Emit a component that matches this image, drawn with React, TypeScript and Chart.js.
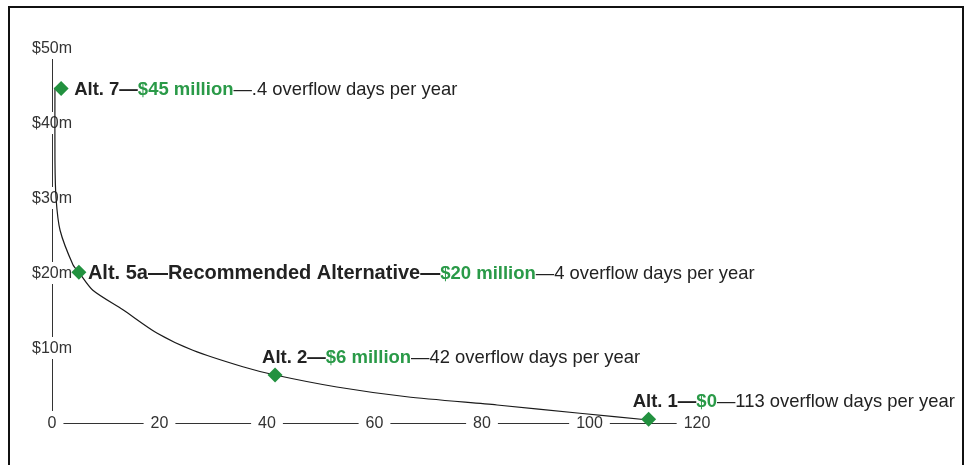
import React, { useEffect, useRef } from 'react';
import { Chart, registerables } from 'chart.js';
Chart.register(...registerables);

// Cost-vs-overflow curve (x: overflow days per year, y: cost in $ millions)
const curveDays = [0.55, 0.55, 0.75, 1.5, 3.9, 5, 7.6, 13.2, 19.5, 26.2, 35.5, 41.5, 53, 66, 82.8, 98.2, 111];
const curveCost = [44.7, 35, 30, 25.7, 21.1, 20.1, 17.7, 15.1, 12, 9.7, 7.5, 6.4, 4.8, 3.5, 2.4, 1.3, 0.4];

// Alternatives (marker positions)
const altDays = [1.7, 5, 41.5, 111];
const altCost = [44.6, 20.1, 6.4, 0.5];
const altNames = ['Alt. 7', 'Alt. 5a\u2014Recommended Alternative', 'Alt. 2', 'Alt. 1'];
const altCostText = ['$45 million', '$20 million', '$6 million', '$0'];
const altOverflowText = ['.4', '4', '42', '113'];

// Axis ticks
const xTicks = [0, 20, 40, 60, 80, 100, 120];
const xTickLabels = ['0', '20', '40', '60', '80', '100', '120'];
const yTicks = [10, 20, 30, 40, 50];
const yTickLabels = ['$10m', '$20m', '$30m', '$40m', '$50m'];

const GREEN = '#22913f';
const TEXT_GREEN = '#2a9a48';
const DARK = '#222222';
const AXIS = '#333333';
const FAMILY = '"Liberation Sans", Arial, Helvetica, sans-serif';

// label placement / name font size per alternative
const labelStyles = [
  { dx: 13, dy: 6, nameSize: 18.5 },
  { dx: 9, dy: 7, nameSize: 20 },
  { dx: -13, dy: -12, nameSize: 18.5 },
  { dx: -16, dy: -12, nameSize: 18.5 },
];

const axesPlugin = {
  id: 'customAxes',
  beforeDatasetsDraw(chart: any) {
    const ctx = chart.ctx as CanvasRenderingContext2D;
    const xs = chart.scales.x;
    const ys = chart.scales.y;
    const x0 = xs.getPixelForValue(0);
    const y0 = ys.getPixelForValue(0);
    ctx.save();
    ctx.strokeStyle = AXIS;
    ctx.lineWidth = 1;
    ctx.beginPath();
    ctx.moveTo(Math.round(x0) + 0.5, y0);
    ctx.lineTo(Math.round(x0) + 0.5, ys.getPixelForValue(50));
    ctx.moveTo(x0, Math.round(y0) + 0.5);
    ctx.lineTo(xs.getPixelForValue(120), Math.round(y0) + 0.5);
    ctx.stroke();

    ctx.textAlign = 'center';
    ctx.textBaseline = 'middle';
    ctx.font = `16px ${FAMILY}`;
    // y labels
    yTicks.forEach((v, i) => {
      const py = ys.getPixelForValue(v);
      const w = ctx.measureText(yTickLabels[i]).width;
      ctx.fillStyle = '#ffffff';
      ctx.fillRect(x0 - w / 2 - 2, py - 11, w + 4, 22);
      ctx.fillStyle = AXIS;
      ctx.fillText(yTickLabels[i], x0, py + 1);
    });
    // x labels
    ctx.font = `16px ${FAMILY}`;
    xTicks.forEach((v, i) => {
      const px = xs.getPixelForValue(v);
      const w = ctx.measureText(xTickLabels[i]).width;
      ctx.fillStyle = '#ffffff';
      ctx.fillRect(px - w / 2 - 7, y0 - 12, w + 14, 24);
      ctx.fillStyle = AXIS;
      ctx.fillText(xTickLabels[i], px, y0 + 1);
    });
    ctx.restore();
  },
};

const labelsPlugin = {
  id: 'altLabels',
  afterDraw(chart: any) {
    const ctx = chart.ctx as CanvasRenderingContext2D;
    const xs = chart.scales.x;
    const ys = chart.scales.y;
    ctx.save();
    ctx.textAlign = 'left';
    ctx.textBaseline = 'alphabetic';
    altDays.forEach((d, i) => {
      const st = labelStyles[i];
      const px = xs.getPixelForValue(d) + st.dx;
      const py = ys.getPixelForValue(altCost[i]) + st.dy;
      const segs = [
        { text: altNames[i] + '\u2014', font: `bold ${st.nameSize}px ${FAMILY}`, color: DARK },
        { text: altCostText[i], font: `bold 18.5px ${FAMILY}`, color: TEXT_GREEN },
        { text: '\u2014' + altOverflowText[i] + ' overflow days per year', font: `18.4px ${FAMILY}`, color: DARK },
      ];
      let cx = px;
      segs.forEach((s) => {
        ctx.font = s.font;
        ctx.fillStyle = s.color;
        ctx.fillText(s.text, cx, py);
        cx += ctx.measureText(s.text).width;
      });
    });
    ctx.restore();
  },
};

export default function App() {
  const ref = useRef<HTMLCanvasElement>(null);
  useEffect(() => {
    const chart = new Chart(ref.current as HTMLCanvasElement, {
      type: 'scatter',
      data: {
        datasets: [
          {
            type: 'line',
            data: curveDays.map((d, i) => ({ x: d, y: curveCost[i] })),
            borderColor: '#1a1a1a',
            borderWidth: 1.2,
            pointRadius: 0,
            tension: 0.25,
            fill: false,
            clip: false,
            order: 2,
          } as any,
          {
            type: 'scatter',
            data: altDays.map((d, i) => ({ x: d, y: altCost[i] })),
            pointStyle: 'rectRot',
            pointRadius: 7.5,
            backgroundColor: GREEN,
            borderWidth: 0,
            clip: false,
            order: 1,
          } as any,
        ],
      },
      options: {
        animation: false,
        responsive: true,
        maintainAspectRatio: false,
        events: [],
        layout: { padding: { left: 42, right: 265, top: 40, bottom: 53 } },
        plugins: { legend: { display: false }, tooltip: { enabled: false } },
        scales: {
          x: { type: 'linear', min: 0, max: 120, display: false },
          y: { type: 'linear', min: 0, max: 50, display: false },
        },
      },
      plugins: [axesPlugin, labelsPlugin],
    });
    return () => chart.destroy();
  }, []);
  return (
    <div
      style={{
        position: 'fixed',
        left: 8,
        top: 6,
        width: 956,
        height: 472,
        border: '2px solid #111',
        boxSizing: 'border-box',
        background: '#fff',
      }}
    >
      <div style={{ position: 'absolute', left: 0, top: 0, width: 952, height: 468 }}>
        <canvas ref={ref} />
      </div>
    </div>
  );
}
